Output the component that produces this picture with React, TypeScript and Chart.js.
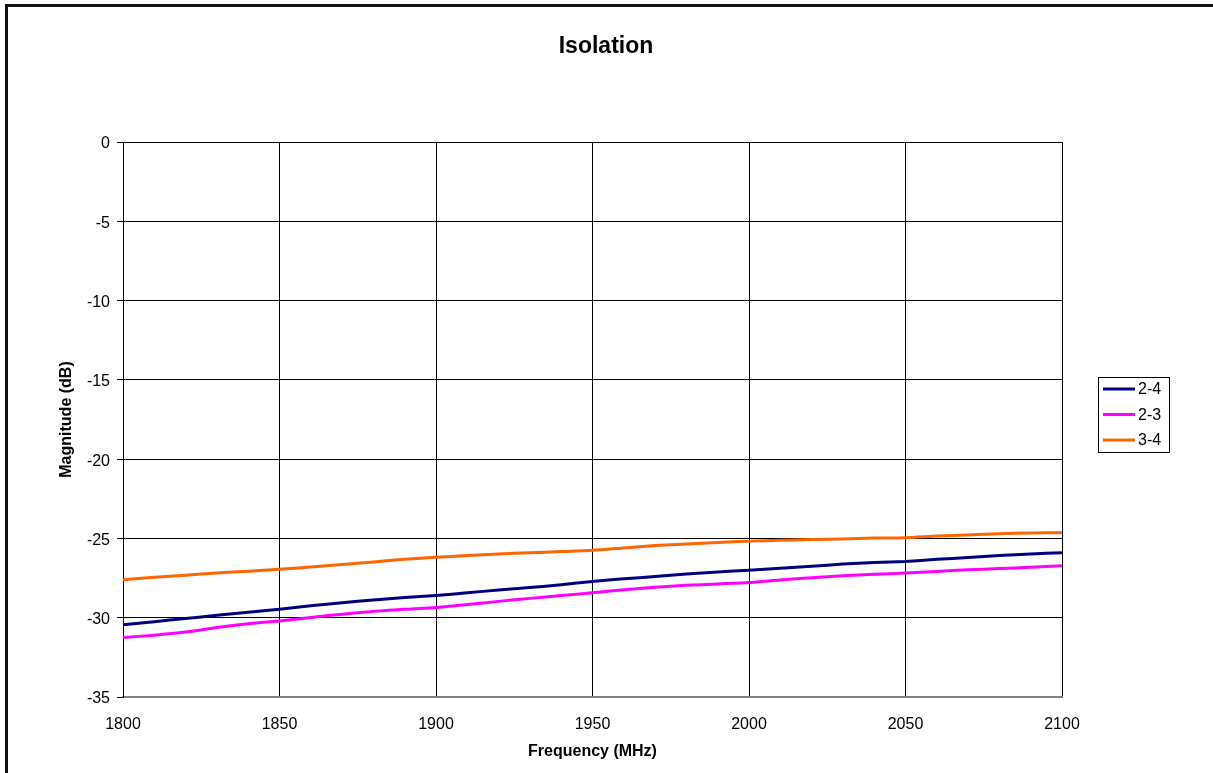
import React, { useEffect, useRef } from "react";
import { Chart, registerables } from "chart.js";

Chart.register(...registerables);

const frequencies = [
  1800, 1810, 1820, 1830, 1840, 1850, 1860, 1870, 1880, 1890, 1900, 1910, 1920, 1930, 1940, 1950,
  1960, 1970, 1980, 1990, 2000, 2010, 2020, 2030, 2040, 2050, 2060, 2070, 2080, 2090, 2100,
];

const iso24 = [
  -30.44, -30.25, -30.05, -29.85, -29.65, -29.47, -29.25, -29.05, -28.88, -28.73, -28.6, -28.43,
  -28.25, -28.1, -27.92, -27.71, -27.55, -27.4, -27.25, -27.12, -27.0, -26.88, -26.75, -26.62,
  -26.52, -26.45, -26.32, -26.2, -26.08, -25.98, -25.9,
];

const iso23 = [
  -31.25, -31.1, -30.9, -30.62, -30.38, -30.2, -29.98, -29.78, -29.6, -29.47, -29.36, -29.17,
  -28.97, -28.78, -28.6, -28.43, -28.24, -28.08, -27.96, -27.87, -27.78, -27.62, -27.48, -27.36,
  -27.26, -27.18, -27.08, -26.98, -26.9, -26.82, -26.72,
];

const iso34 = [
  -27.6, -27.45, -27.32, -27.18, -27.07, -26.95, -26.8, -26.65, -26.48, -26.32, -26.19, -26.08,
  -25.98, -25.9, -25.83, -25.75, -25.6, -25.45, -25.35, -25.25, -25.17, -25.12, -25.07, -25.03,
  -24.98, -24.95, -24.85, -24.78, -24.7, -24.66, -24.64,
];

const seriesNames = ["2-4", "2-3", "3-4"];
const seriesColors = ["#000080", "#FF00FF", "#FF6600"];
const chartTitle = "Isolation";
const xTitle = "Frequency (MHz)";
const yTitle = "Magnitude (dB)";

const FONT = "'Liberation Sans', Arial, sans-serif";

const decorPlugin = {
  id: "decor",
  beforeDraw(chart: any) {
    const ctx = chart.ctx;
    ctx.save();
    ctx.fillStyle = "#ffffff";
    ctx.fillRect(0, 0, chart.width, chart.height);
    ctx.fillStyle = "#111111";
    ctx.fillRect(5, 4, 3, chart.height);
    ctx.fillRect(5, 4, chart.width, 3);
    ctx.restore();
  },
  afterDraw(chart: any) {
    const ctx = chart.ctx;
    ctx.save();
    ctx.fillStyle = "#000";
    ctx.font = `bold 23px ${FONT}`;
    ctx.textAlign = "center";
    ctx.textBaseline = "middle";
    ctx.fillText(chartTitle, 606, 47);
    const bx = 1098.5, by = 377.5, bw = 71, bh = 75;
    ctx.fillStyle = "#fff";
    ctx.fillRect(bx, by, bw, bh);
    ctx.strokeStyle = "#000";
    ctx.lineWidth = 1;
    ctx.strokeRect(bx, by, bw, bh);
    ctx.font = `16px ${FONT}`;
    ctx.textAlign = "left";
    ctx.textBaseline = "middle";
    const rows = [389, 414.5, 440];
    chart.data.datasets.forEach((ds: any, i: number) => {
      const y = rows[i];
      ctx.strokeStyle = ds.borderColor;
      ctx.lineWidth = 3;
      ctx.beginPath();
      ctx.moveTo(1103, y);
      ctx.lineTo(1135, y);
      ctx.stroke();
      ctx.fillStyle = "#000";
      ctx.fillText(ds.label, 1138, y + 1);
    });
    ctx.restore();
  },
};

export default function App() {
  const canvasRef = useRef<HTMLCanvasElement | null>(null);

  useEffect(() => {
    if (!canvasRef.current) return;
    const seriesValues = [iso24, iso23, iso34];
    const chart = new Chart(canvasRef.current, {
      type: "line",
      data: {
        datasets: seriesNames.map((name, i) => ({
          label: name,
          data: frequencies.map((f, j) => ({ x: f, y: seriesValues[i][j] })),
          borderColor: seriesColors[i],
          backgroundColor: seriesColors[i],
          borderWidth: 3,
          pointRadius: 0,
          tension: 0.2,
          fill: false,
        })),
      },
      options: {
        animation: false,
        responsive: false,
        maintainAspectRatio: false,
        layout: { padding: { left: 0, right: 151, top: 142, bottom: 0 } },
        plugins: {
          legend: { display: false },
          title: { display: false },
          tooltip: { enabled: false },
        },
        scales: {
          x: {
            type: "linear",
            min: 1800,
            max: 2100,
            ticks: {
              stepSize: 50,
              color: "#000",
              font: { family: FONT, size: 16 },
              padding: 18,
              maxRotation: 0,
              callback: (v: any) => String(v),
            },
            grid: { color: "#000", lineWidth: 1, drawTicks: false },
            border: { color: "#808080", width: 2 },
            title: {
              display: true,
              text: xTitle,
              color: "#000",
              font: { family: FONT, size: 16, weight: "bold" },
              padding: { top: 0, bottom: 12 },
            },
            afterFit: (scale: any) => {
              scale.height = 76;
            },
          },
          y: {
            type: "linear",
            min: -35,
            max: 0,
            ticks: {
              stepSize: 5,
              color: "#000",
              font: { family: FONT, size: 16 },
              padding: 7,
              labelOffset: 2,
              callback: (v: any) => String(v),
            },
            grid: { color: "#000", lineWidth: 1, tickLength: 6 },
            border: { color: "#000", width: 1 },
            title: {
              display: true,
              text: yTitle,
              color: "#000",
              font: { family: FONT, size: 16, weight: "bold" },
              padding: { top: 57, bottom: 0 },
            },
            afterFit: (scale: any) => {
              scale.width = 123;
            },
          },
        },
      },
      plugins: [decorPlugin],
    } as any);
    return () => chart.destroy();
  }, []);

  return (
    <div style={{ position: "fixed", left: 0, top: 0, width: 1213, height: 773, background: "#fff" }}>
      <canvas ref={canvasRef} width={1213} height={773} style={{ width: 1213, height: 773, display: "block" }} />
    </div>
  );
}
